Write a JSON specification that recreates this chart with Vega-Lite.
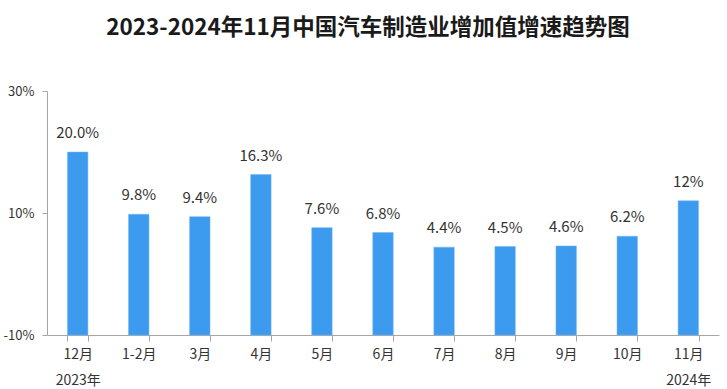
{
  "$schema": "https://vega.github.io/schema/vega-lite/v6.json",
  "autosize": "none",
  "width": 672,
  "height": 244,
  "padding": {"left": 47, "top": 91, "right": 8, "bottom": 54},
  "background": "white",
  "title": {
    "text": "2023-2024年11月中国汽车制造业增加值增速趋势图",
    "font": "Noto Sans CJK SC",
    "fontSize": 22.5,
    "fontWeight": "bold",
    "color": "#1a1a1a",
    "anchor": "middle",
    "frame": "group",
    "dx": -15,
    "offset": 23,
    "baseline": "bottom"
  },
  "data": {
    "values": [
      {"month": "12月", "value": 20.0, "label": "20.0%"},
      {"month": "1-2月", "value": 9.8, "label": "9.8%"},
      {"month": "3月", "value": 9.4, "label": "9.4%"},
      {"month": "4月", "value": 16.3, "label": "16.3%"},
      {"month": "5月", "value": 7.6, "label": "7.6%"},
      {"month": "6月", "value": 6.8, "label": "6.8%"},
      {"month": "7月", "value": 4.4, "label": "4.4%"},
      {"month": "8月", "value": 4.5, "label": "4.5%"},
      {"month": "9月", "value": 4.6, "label": "4.6%"},
      {"month": "10月", "value": 6.2, "label": "6.2%"},
      {"month": "11月", "value": 12, "label": "12%"}
    ]
  },
  "encoding": {
    "x": {
      "field": "month",
      "type": "nominal",
      "sort": null,
      "scale": {"paddingInner": 0.665, "paddingOuter": 0.335},
      "axis": {
        "title": null,
        "labelAngle": 0,
        "labelFont": "Noto Sans CJK SC",
        "labelFontSize": 14,
        "labelColor": "#333333",
        "labelPadding": 6,
        "labelBaseline": "top",
        "labelLineHeight": 26,
        "labelExpr": "datum.value == '12月' ? ['12月', '2023年'] : datum.value == '11月' ? ['11月', '2024年'] : datum.value",
        "domainColor": "#a6a6a6",
        "tickColor": "#a6a6a6",
        "tickBand": "extent",
        "tickSize": 6
      }
    },
    "y": {
      "field": "value",
      "type": "quantitative",
      "scale": {"domain": [-10, 30], "nice": false, "zero": false},
      "axis": {
        "title": null,
        "values": [-10, 10, 30],
        "labelExpr": "datum.value + '%'",
        "labelFont": "Noto Sans CJK SC",
        "labelFontSize": 13,
        "labelColor": "#333333",
        "labelPadding": 8,
        "grid": false,
        "domainColor": "#a6a6a6",
        "tickColor": "#a6a6a6",
        "tickSize": 5
      }
    }
  },
  "layer": [
    {
      "mark": {"type": "bar", "color": "#3d9bef", "stroke": "#6fb6f5", "strokeWidth": 0.5},
      "encoding": {"y2": {"datum": -10}}
    },
    {
      "mark": {
        "type": "text",
        "font": "Noto Sans CJK SC",
        "fontSize": 15,
        "color": "#333333",
        "baseline": "bottom",
        "dy": -11
      },
      "encoding": {"text": {"field": "label"}}
    }
  ],
  "config": {"view": {"stroke": null}}
}
